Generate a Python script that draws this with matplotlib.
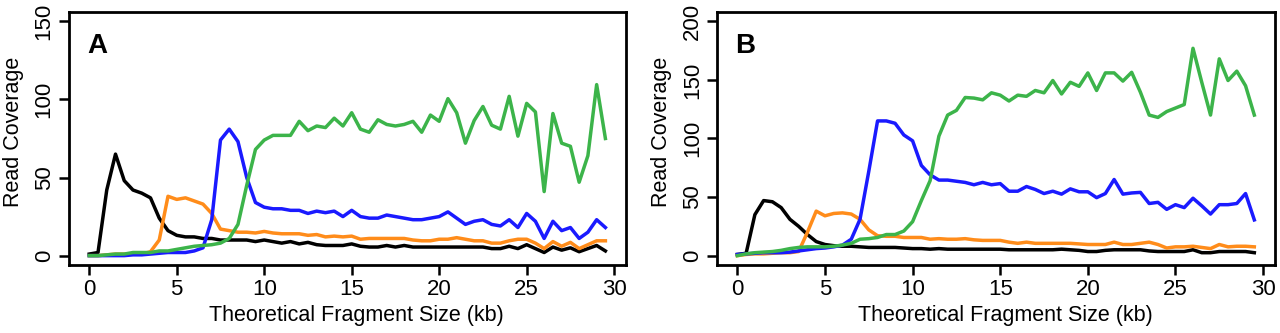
import matplotlib
matplotlib.use("Agg")
import matplotlib.pyplot as plt

plt.rcParams['font.family'] = ['Liberation Sans', 'DejaVu Sans']

# fragment size bins (kb)
sizes = [0, 0.5, 1, 1.5, 2, 2.5, 3, 3.5, 4, 4.5, 5, 5.5, 6, 6.5, 7, 7.5, 8, 8.5, 9, 9.5,
         10, 10.5, 11, 11.5, 12, 12.5, 13, 13.5, 14, 14.5, 15, 15.5, 16, 16.5, 17, 17.5, 18, 18.5, 19, 19.5,
         20, 20.5, 21, 21.5, 22, 22.5, 23, 23.5, 24, 24.5, 25, 25.5, 26, 26.5, 27, 27.5, 28, 28.5, 29, 29.5]

# panel A
a_black = [1, 2, 42, 65, 48, 42, 40, 37, 24, 16, 13, 12, 12, 11, 11, 10, 10, 10, 10, 9,
           10, 9, 8, 9, 7.5, 8.5, 7, 6.5, 6.5, 6.5, 7.5, 6, 5.5, 5.5, 6.5, 5.5, 6.5, 5.5, 5.5, 5.5,
           5.5, 5.5, 5.5, 5.5, 5.5, 5.5, 4.5, 4.5, 6, 4.5, 7, 4.5, 2, 5.5, 3.5, 5, 2.5, 4.5, 6.5, 3]
a_orange = [0, 0, 0.5, 1, 1, 1, 1, 2.5, 10, 38, 36, 37, 35, 33, 27, 17, 16, 15, 15, 14.5,
            15.5, 14.5, 14, 14, 14, 13, 13.5, 12, 12.5, 12, 12.5, 10.5, 11, 11, 11, 11, 11, 10, 9.5, 9.5,
            10.5, 10.5, 11.5, 10.5, 9.5, 9.5, 8, 8, 9.5, 10.5, 10.5, 8, 4.5, 9, 6, 8.5, 4.5, 7, 9.5, 9.5]
a_blue = [0, 0, 0, 0, 0, 0.5, 0.5, 1, 1.5, 2, 2, 2, 3, 5, 23, 74, 81, 73, 50, 34,
          31, 30, 30, 29, 29, 27, 28.5, 27.5, 28.5, 25, 29, 25, 24, 24, 26, 25, 24, 23, 23, 24,
          25, 28, 24, 20, 22, 23, 20, 19, 23, 18, 27, 22, 11, 22, 16, 18, 11, 15, 23, 18]
a_green = [0, 0, 0.5, 1, 1, 2, 2, 2, 3, 3, 4, 5, 6, 6.5, 7, 8, 11, 20, 45, 68,
           74, 77, 77, 77, 86, 80, 83, 82, 88, 83, 91.5, 81, 79, 87, 84, 83, 84, 86, 79, 90,
           86, 100.5, 91.5, 72, 86.5, 95.5, 83.5, 81, 102, 76.5, 97.5, 92, 41, 91, 72, 70, 47, 64, 109.5, 75]

# panel B
b_black = [1, 2, 35, 47, 46, 41, 31, 25, 18, 12, 9.5, 8.5, 8, 8, 7.5, 7, 7, 7, 7, 6.5,
           6, 6, 5.5, 6, 5.5, 5.5, 5.5, 5.5, 5.5, 5.5, 5.5, 5, 5, 5, 5, 5, 5, 5.5, 5, 4.5,
           3.5, 3.5, 4.5, 5, 5, 5, 5, 4, 3.5, 3.5, 3.5, 3.5, 5, 2.5, 2.5, 3.5, 3.5, 3.5, 3.5, 2.5]
b_orange = [0, 1, 1.5, 1.5, 2, 2.5, 2.5, 3.5, 20, 38, 34, 36, 36.5, 35.5, 31, 22, 17, 16.5, 16.5, 15.5,
            15.5, 15.5, 14, 14.5, 14, 14, 14.5, 13.5, 13, 13, 13, 11.5, 10.5, 11.5, 10.5, 10.5, 10.5, 10.5, 10.5, 10,
            9.5, 9.5, 9.5, 11.5, 9.5, 9.5, 10.5, 11.5, 9.5, 6.5, 7.5, 7.5, 8, 7, 6, 9.5, 7.5, 8, 8, 7.5]
b_blue = [1, 1.5, 2, 2.5, 2.5, 2.5, 3, 4, 5, 6, 6.5, 7.5, 9, 14, 31, 72, 115, 115, 113, 103,
          98, 77, 69, 64.5, 64.5, 63.5, 62.5, 60.5, 62.5, 60.5, 61.5, 55, 55, 59, 56.5, 53, 55, 52.5, 57, 54.5,
          54.5, 49.5, 53, 65, 52.5, 53.5, 54, 44.5, 45.5, 39.5, 43.5, 41, 49, 42.5, 35.5, 43.5, 43.5, 44.5, 53, 30.5]
b_green = [0, 1.5, 2.5, 3, 3.5, 4.5, 6, 7, 7.5, 7.5, 7.5, 8, 9, 10.5, 14, 14.5, 15.5, 18, 18, 21,
           29, 47, 64, 102, 120, 124, 135, 134.5, 133, 139, 137, 132, 137, 136, 141, 139, 149.5, 138, 148, 144.5,
           156, 141, 156, 156, 149, 156.5, 139.5, 120, 118, 123, 126, 129, 177, 148, 120, 168, 149.5, 157.5, 145, 120]

xticks = [0, 5, 10, 15, 20, 25, 30]
a_yticks = [0, 50, 100, 150]
b_yticks = [0, 50, 100, 150, 200]

colors = {'black': 'black', 'orange': '#ff8c1a', 'blue': '#1a1aff', 'green': '#3cb44a'}


def draw_panel(ax, letter, black, orange, blue, green, yticks):
    ax.plot(sizes, black, color=colors['black'], lw=2.5)
    ax.plot(sizes, orange, color=colors['orange'], lw=2.5)
    ax.plot(sizes, blue, color=colors['blue'], lw=2.5)
    ax.plot(sizes, green, color=colors['green'], lw=2.5)

    top = yticks[-1]
    pad = top * 0.04
    ax.set_xlim(-1.18, 30.68)
    ax.set_ylim(-pad, top + pad)
    ax.set_xticks(xticks)
    ax.set_yticks(yticks)
    ax.set_yticklabels([str(t) for t in yticks], rotation=90, va='center')
    ax.tick_params(length=7, width=1.8, pad=3, labelsize=16)
    for s in ax.spines.values():
        s.set_linewidth(2)

    ax.set_xlabel("Theoretical Fragment Size (kb)", fontsize=15.5)
    ax.set_ylabel("Read Coverage", fontsize=15.5)
    ax.xaxis.set_label_coords(0.517, -0.16)
    ax.yaxis.set_label_coords(-0.08, 0.527)
    ax.text(0.033, 0.836, letter, transform=ax.transAxes, fontsize=20,
            fontweight='bold', ha='left', va='baseline')


fig = plt.figure(figsize=(12.8, 3.33), dpi=100)
ax1 = fig.add_axes([0.0536, 0.2042, 0.4355, 0.7598])
ax2 = fig.add_axes([0.5599, 0.2042, 0.4362, 0.7598])

draw_panel(ax1, "A", a_black, a_orange, a_blue, a_green, a_yticks)
draw_panel(ax2, "B", b_black, b_orange, b_blue, b_green, b_yticks)

fig.savefig("out.png", dpi=100)
